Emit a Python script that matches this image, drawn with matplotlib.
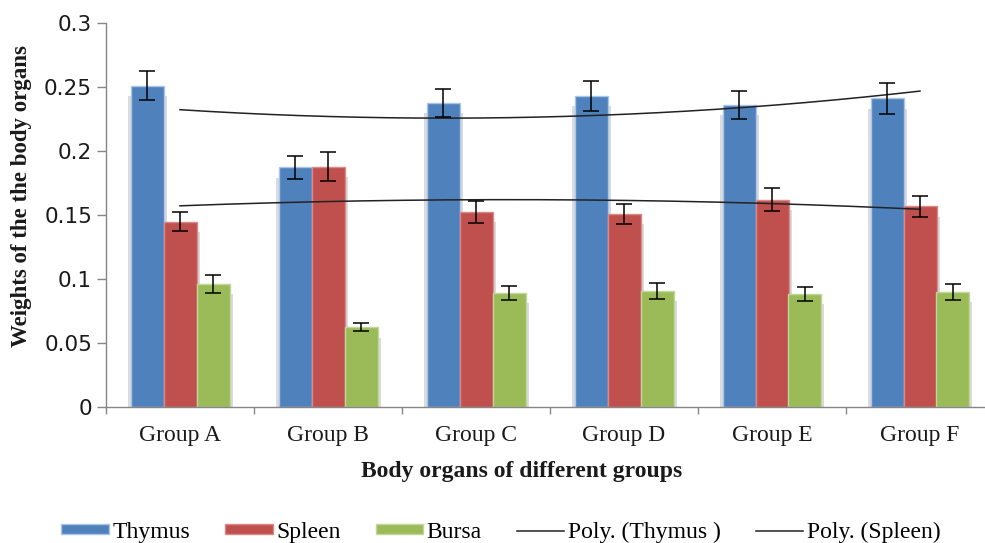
"""Grouped bar chart of body organ weights per group, with order-2 poly trendlines."""

import matplotlib

matplotlib.use("Agg")
import matplotlib.pyplot as plt
import numpy as np
from matplotlib.ticker import FixedLocator, MultipleLocator

groups = ["Group A", "Group B", "Group C", "Group D", "Group E", "Group F"]

thymus = [0.2513, 0.1875, 0.2380, 0.2432, 0.2362, 0.2414]
spleen = [0.1450, 0.1880, 0.1526, 0.1510, 0.1622, 0.1570]
bursa = [0.0963, 0.0625, 0.0893, 0.0911, 0.0885, 0.0900]

thymus_err = [0.0115, 0.0092, 0.0110, 0.0117, 0.0110, 0.0120]
spleen_err = [0.0075, 0.0115, 0.0086, 0.0078, 0.0090, 0.0080]
bursa_err = [0.0068, 0.0031, 0.0055, 0.0063, 0.0053, 0.0063]

y_ticks = [0, 0.05, 0.1, 0.15, 0.2, 0.25, 0.3]
y_tick_labels = ["0", "0.05", "0.1", "0.15", "0.2", "0.25", "0.3"]

BLUE, RED, GREEN = "#4F81BD", "#C0504D", "#9BBB59"
EDGES = {"Thymus": "#A9C6EA", "Spleen": "#D98A88", "Bursa": "#C2D69B"}
SERIF = ["Liberation Serif", "DejaVu Serif"]

W, H, DPI = 985, 543, 100
PT = 72 / DPI  # one pixel in points


def main() -> None:
    fig = plt.figure(figsize=(W / DPI, H / DPI), dpi=DPI)
    # plot area in pixels: x 106..994 (runs a bit past the right edge), y 23..407
    ax = fig.add_axes((106 / W, 1 - 407.3 / H, 888 / W, 384 / H))

    x = np.arange(len(groups))
    bw = 33 / 148  # bar width in category units
    px = 1 / 148

    series = [
        ("Thymus", thymus, thymus_err, BLUE, -bw),
        ("Spleen", spleen, spleen_err, RED, 0.0),
        ("Bursa", bursa, bursa_err, GREEN, bw),
    ]

    # soft grey shadow behind the bars (Excel style)
    for _, vals, _, _, off in series:
        ax.bar(x + off, np.array(vals) - 0.008, width=bw + 6 * px, color="#9a9a9a",
               alpha=0.35, zorder=1, linewidth=0)

    handles = []
    for name, vals, err, col, off in series:
        bars = ax.bar(x + off, vals, width=bw, color=col, edgecolor=EDGES[name],
                      linewidth=1.0, zorder=2, label=name, yerr=err,
                      error_kw=dict(ecolor="black", elinewidth=1.1, capsize=5.5,
                                    capthick=1.1, zorder=4))
        handles.append(bars)

    # polynomial (order 2) trendlines, as in the spreadsheet
    xs = np.linspace(x[0], x[-1], 200)
    for name, vals in [("Poly. (Thymus )", thymus), ("Poly. (Spleen)", spleen)]:
        coef = np.polyfit(x, vals, 2)
        (ln,) = ax.plot(xs, np.polyval(coef, xs), color="#222222", lw=1.1, zorder=3,
                        label=name)
        handles.append(ln)

    ax.set_xlim(-0.5, len(groups) - 0.5)
    ax.set_ylim(0, 0.3)

    ax.yaxis.set_major_locator(FixedLocator(y_ticks))
    ax.set_yticklabels(y_tick_labels, family="DejaVu Sans", fontsize=15.5, color="#1a1a1a")
    ax.tick_params(axis="y", which="major", length=9 * PT, width=1, color="#868686",
                   pad=5 * PT)

    # category boundaries carry the ticks, labels sit at the centres
    ax.xaxis.set_major_locator(MultipleLocator(1.0, offset=0.5))
    ax.xaxis.set_major_formatter(plt.NullFormatter())
    ax.set_xticks(x, minor=True)
    ax.set_xticklabels(groups, minor=True, family=SERIF, fontsize=17, color="#1a1a1a")
    ax.tick_params(axis="x", which="major", length=7 * PT, width=1, color="#868686")
    ax.tick_params(axis="x", which="minor", length=0, pad=13)

    for side in ("top", "right"):
        ax.spines[side].set_visible(False)
    for side in ("left", "bottom"):
        ax.spines[side].set_color("#868686")
        ax.spines[side].set_linewidth(1.0)

    fig.text(22 / W, 1 - 196 / H, "Weights of the the body organs", rotation=90,
             ha="center", va="center", family=SERIF, fontsize=16.5, fontweight="bold",
             color="#1a1a1a")
    fig.text(522 / W, 1 - 472 / H, "Body organs of different groups", ha="center",
             va="center", family=SERIF, fontsize=17, fontweight="bold", color="#1a1a1a")

    fig.legend(handles=handles, loc="center", bbox_to_anchor=(501 / W, 1 - 532 / H),
               ncol=5, frameon=False, prop={"family": SERIF, "size": 17},
               handlelength=2.0, handleheight=0.3, handletextpad=0.15,
               columnspacing=1.5, borderaxespad=0, borderpad=0)

    fig.savefig("out.png", dpi=DPI)
    plt.close(fig)


if __name__ == "__main__":
    main()
